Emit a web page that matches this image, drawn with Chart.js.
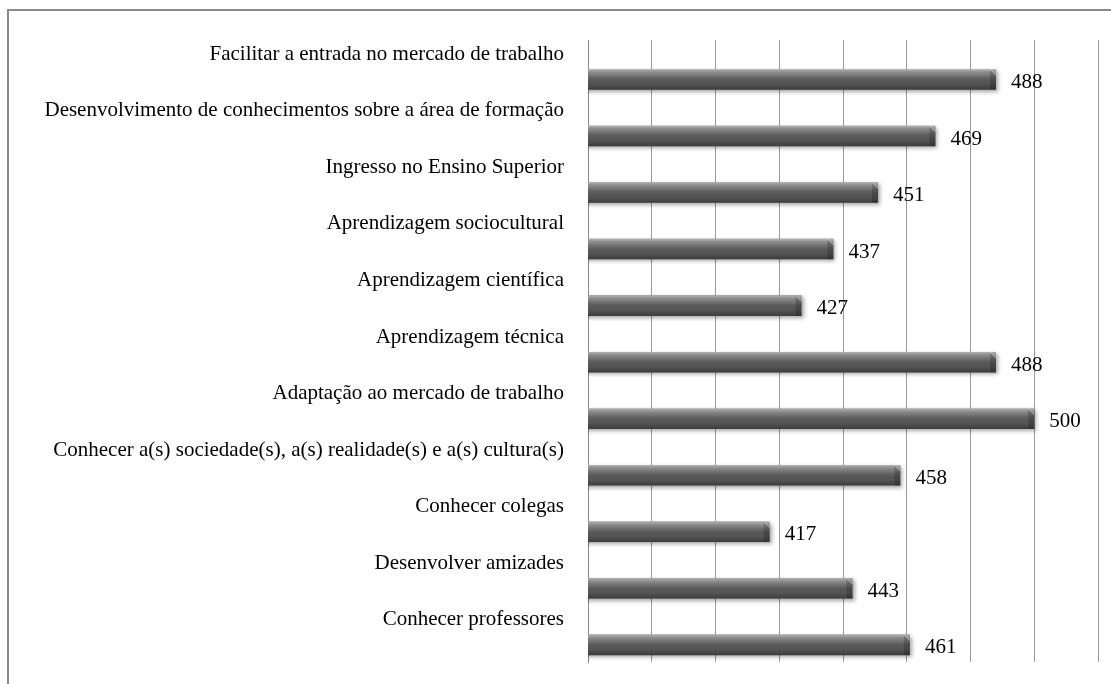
<!DOCTYPE html>
<html>
<head>
<meta charset="utf-8">
<script src="https://cdn.jsdelivr.net/npm/chart.js@4"></script>
<style>
    html, body { margin: 0; padding: 0; background: #fff; }
    #wrap { position: relative; width: 1111px; height: 684px; overflow: hidden; }
    #frame { position: absolute; left: 7px; top: 9px; width: 1200px; height: 800px; border: 2px solid #8c8c8c; box-sizing: border-box; }
    canvas { position: absolute; left: 0; top: 0; }
</style>
</head>
<body>
<div id="wrap">
    <div id="frame"></div>
    <canvas id="myChart" width="1111" height="684"></canvas>
</div>
<script>
// categories, top to bottom
let labels = [
    'Facilitar a entrada no mercado de trabalho',
    'Desenvolvimento de conhecimentos sobre a área de formação',
    'Ingresso no Ensino Superior',
    'Aprendizagem sociocultural',
    'Aprendizagem científica',
    'Aprendizagem técnica',
    'Adaptação ao mercado de trabalho',
    'Conhecer a(s) sociedade(s), a(s) realidade(s) e a(s) cultura(s)',
    'Conhecer colegas',
    'Desenvolver amizades',
    'Conhecer professores'
];

let values = [488, 469, 451, 437, 427, 488, 500, 458, 417, 443, 461];

// empty series, keeps the bars in the lower half of each row (as in the original)
let spacer = labels.map(() => null);

// axis
let axisMin = 360;
let axisMax = 520;
let axisStep = 20;

const serif = 'Liberation Serif, Times New Roman, serif';

// soft shadow under the bars
const barShadow = {
    id: 'barShadow',
    beforeDatasetDraw(chart, args) {
        if (args.index !== 1) return;
        const ctx = chart.ctx;
        ctx.save();
        ctx.shadowColor = 'rgba(0,0,0,0.35)';
        ctx.shadowBlur = 4;
        ctx.shadowOffsetX = 2;
        ctx.shadowOffsetY = 2;
    },
    afterDatasetDraw(chart, args) {
        if (args.index !== 1) return;
        chart.ctx.restore();
    }
};

// cylinder shading + bevelled end + value labels
const barLook = {
    id: 'barLook',
    afterDatasetsDraw(chart) {
        const ctx = chart.ctx;
        const area = chart.chartArea;
        const meta = chart.getDatasetMeta(1);
        meta.data.forEach((bar, i) => {
            const p = bar.getProps(['x', 'y', 'base', 'height'], true);
            const top = p.y - p.height / 2;
            const bottom = p.y + p.height / 2;
            const left = Math.max(Math.min(p.base, p.x), area.left);
            const right = Math.max(p.base, p.x);

            ctx.save();
            let g = ctx.createLinearGradient(0, top, 0, bottom);
            g.addColorStop(0, 'rgba(255,255,255,0.55)');
            g.addColorStop(0.15, 'rgba(255,255,255,0.32)');
            g.addColorStop(0.45, 'rgba(255,255,255,0.06)');
            g.addColorStop(0.7, 'rgba(0,0,0,0)');
            g.addColorStop(1, 'rgba(0,0,0,0.3)');
            ctx.fillStyle = g;
            ctx.fillRect(left, top, right - left, bottom - top);

            // right bevel
            let b = 6;
            ctx.beginPath();
            ctx.moveTo(right - b, top);
            ctx.lineTo(right, top + b);
            ctx.lineTo(right, bottom);
            ctx.lineTo(right - b, bottom);
            ctx.closePath();
            ctx.fillStyle = 'rgba(0,0,0,0.18)';
            ctx.fill();
            ctx.beginPath();
            ctx.moveTo(right - b, top);
            ctx.lineTo(right, top + b);
            ctx.strokeStyle = 'rgba(255,255,255,0.45)';
            ctx.lineWidth = 1;
            ctx.stroke();

            // value
            ctx.fillStyle = '#000';
            ctx.font = '21px ' + serif;
            ctx.textAlign = 'left';
            ctx.textBaseline = 'middle';
            ctx.fillText(String(values[i]), right + 15, p.y + 3);
            ctx.restore();
        });
    }
};

let ctx = document.getElementById('myChart').getContext('2d');

let myChart = new Chart(ctx, {
    type: 'bar',
    data: {
        labels: labels,
        datasets: [
            {
                label: 'spacer',
                data: spacer,
                backgroundColor: 'rgba(0,0,0,0)'
            },
            {
                label: 'Total',
                data: values,
                backgroundColor: '#565656',
                borderWidth: 0
            }
        ]
    },
    options: {
        indexAxis: 'y',
        responsive: false,
        animation: false,
        events: [],
        categoryPercentage: 0.79,
        barPercentage: 0.92,
        layout: {
            padding: { top: 40, bottom: 22, right: 13, left: 0 }
        },
        plugins: {
            legend: { display: false },
            tooltip: { enabled: false },
            title: { display: false }
        },
        scales: {
            x: {
                min: axisMin,
                max: axisMax,
                ticks: { display: false, stepSize: axisStep },
                grid: { color: '#9a9a9a', lineWidth: 1, drawTicks: false },
                border: { display: false },
                afterFit(scale) { scale.height = 0; }
            },
            y: {
                grid: { display: false, drawTicks: false },
                border: { display: true, color: '#8a8a8a', width: 1 },
                ticks: {
                    color: '#000',
                    font: { family: serif, size: 21 },
                    padding: 24,
                    labelOffset: -14,
                    autoSkip: false
                },
                afterFit(scale) {
                    scale.width = 588;
                    scale.paddingTop = 0;
                    scale.paddingBottom = 0;
                }
            }
        }
    },
    plugins: [barShadow, barLook]
});
</script>
</body>
</html>
